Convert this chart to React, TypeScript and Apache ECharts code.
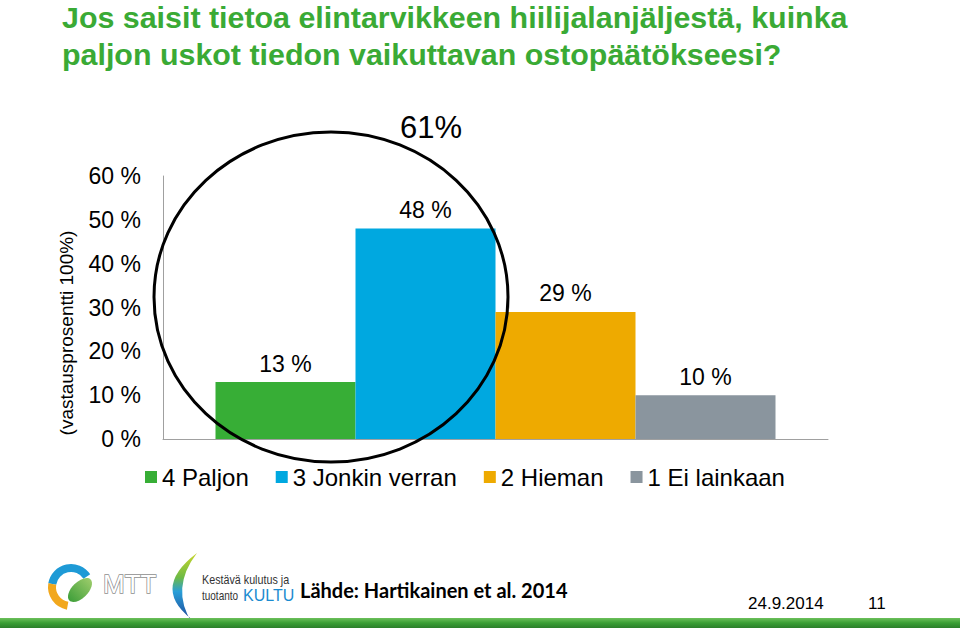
import React, { useEffect, useRef } from "react";
import * as echarts from "echarts";

const categories = ["4 Paljon", "3 Jonkin verran", "2 Hieman", "1 Ei lainkaan"];
const values = [13, 48, 29, 10];
const colors = ["#37AE36", "#00A8E0", "#EEAA00", "#8A959E"];
const yMin = 0;
const yMax = 60;
const yInterval = 10;
const titleLines = [
  "Jos saisit tietoa elintarvikkeen hiilijalanjäljestä, kuinka",
  "paljon uskot tiedon vaikuttavan ostopäätökseesi?",
];
const yAxisName = "(vastausprosentti 100%)";
const combinedLabel = "61%";
const sourceText = "Lähde: Hartikainen et al. 2014";
const dateText = "24.9.2014";
const pageText = "11";

const FONT = "'Liberation Sans', Arial, sans-serif";

export default function App() {
  const ref = useRef<HTMLDivElement>(null);
  useEffect(() => {
    if (!ref.current) return;
    echarts.graphic.registerShape(
      "crescent",
      echarts.graphic.extendPath(
        "M 197 553 Q 148 590 197 623 L 192 623 Q 170 588 197 553 Z",
        {}
      )
    );
    const chart = echarts.init(ref.current, null, { renderer: "svg" });
    const series = categories.map((name, i) => ({
      name,
      type: "bar",
      data: [values[i]],
      barWidth: 140,
      barGap: "0%",
      itemStyle: { color: colors[i] },
      label: {
        show: true,
        position: "top",
        distance: 7,
        formatter: "{c} %",
        fontSize: 23,
        color: "#000",
        fontFamily: FONT,
      },
      z: 2,
    }));
    chart.setOption({
      animation: false,
      backgroundColor: "#fff",
      textStyle: { fontFamily: FONT },
      grid: { left: 163, top: 176, width: 665, height: 263, containLabel: false },
      xAxis: {
        type: "category",
        data: [""],
        axisLine: { show: true, lineStyle: { color: "#A0A0A0", width: 1 } },
        axisTick: { show: false },
        axisLabel: { show: false },
      },
      yAxis: {
        type: "value",
        min: yMin,
        max: yMax,
        interval: yInterval,
        axisLine: { show: true, lineStyle: { color: "#A0A0A0", width: 1 } },
        axisTick: { show: false },
        splitLine: { show: false },
        axisLabel: {
          formatter: "{value} %",
          fontSize: 23,
          color: "#000",
          margin: 22,
          fontFamily: FONT,
        },
      },
      legend: {
        data: categories,
        left: 145,
        top: 465,
        padding: 0,
        icon: "rect",
        itemWidth: 12,
        itemHeight: 12,
        itemGap: 27,
        textStyle: { fontSize: 24, color: "#000", fontFamily: FONT },
      },
      series,
      graphic: [
        {
          type: "text",
          x: 62,
          y: 16.5,
          style: {
            text: titleLines[0],
            fill: "#3AAA35",
            font: `bold 30.4px ${FONT}`,
            verticalAlign: "middle",
          },
        },
        {
          type: "text",
          x: 62,
          y: 53.5,
          style: {
            text: titleLines[1],
            fill: "#3AAA35",
            font: `bold 30.4px ${FONT}`,
            verticalAlign: "middle",
          },
        },
        {
          type: "text",
          x: 66,
          y: 333,
          rotation: Math.PI / 2,
          style: {
            text: yAxisName,
            fill: "#000",
            font: `19px ${FONT}`,
            align: "center",
            verticalAlign: "middle",
          },
        },
        {
          type: "ellipse",
          z: 10,
          shape: { cx: 331, cy: 297, rx: 177, ry: 165 },
          style: { fill: "none", stroke: "#000", lineWidth: 3 },
        },
        {
          type: "text",
          z: 10,
          x: 431,
          y: 127,
          style: {
            text: combinedLabel,
            fill: "#000",
            font: `31px ${FONT}`,
            align: "center",
            verticalAlign: "middle",
          },
        },
        // MTT logo
        {
          type: "arc",
          shape: { cx: 71, cy: 587, r: 19, startAngle: 3.3, endAngle: 5.7, clockwise: true },
          style: { fill: "none", stroke: "#1E9AD6", lineWidth: 8 },
        },
        {
          type: "arc",
          shape: { cx: 71, cy: 587, r: 19, startAngle: 1.75, endAngle: 3.3, clockwise: true },
          style: { fill: "none", stroke: "#F2A81D", lineWidth: 8 },
        },
        {
          type: "ellipse",
          x: 80,
          y: 590,
          rotation: Math.PI / 4,
          shape: { cx: 0, cy: 0, rx: 15, ry: 8 },
          style: {
            fill: new echarts.graphic.LinearGradient(0, 0, 1, 0, [
              { offset: 0, color: "#3F9F3A" },
              { offset: 1, color: "#9BCB6A" },
            ]),
          },
        },
        {
          type: "text",
          x: 103,
          y: 584,
          style: {
            text: "MTT",
            fill: "#fff",
            stroke: "#8E8E8E",
            lineWidth: 1.5,
            font: `26px ${FONT}`,
            verticalAlign: "middle",
          },
        },
        // KULTU logo
        {
          type: "crescent",
          x: 0,
          y: 0,
          style: {
            fill: new echarts.graphic.LinearGradient(0, 0, 0, 1, [
              { offset: 0, color: "#C9D62B" },
              { offset: 0.35, color: "#6DBA45" },
              { offset: 0.55, color: "#2A9FD8" },
              { offset: 1, color: "#1B3E92" },
            ]),
          },
        },
        {
          type: "text",
          x: 202,
          y: 579,
          scaleX: 0.86,
          style: {
            text: "Kestävä kulutus ja",
            fill: "#333",
            font: `12.5px ${FONT}`,
            verticalAlign: "middle",
          },
        },
        {
          type: "text",
          x: 202,
          y: 596,
          scaleX: 0.8,
          style: {
            text: "tuotanto",
            fill: "#333",
            font: `12.5px ${FONT}`,
            verticalAlign: "middle",
          },
        },
        {
          type: "text",
          x: 243,
          y: 595,
          style: {
            text: "KULTU",
            fill: "#1B8BD0",
            font: `16px ${FONT}`,
            verticalAlign: "middle",
          },
        },
        {
          type: "text",
          x: 300,
          y: 590,
          style: {
            text: sourceText,
            fill: "#000",
            font: `bold 20px Lato, 'Open Sans', sans-serif`,
            verticalAlign: "middle",
          },
        },
        {
          type: "text",
          x: 748,
          y: 603,
          style: {
            text: dateText,
            fill: "#000",
            font: `17px ${FONT}`,
            verticalAlign: "middle",
          },
        },
        {
          type: "text",
          x: 868,
          y: 603,
          style: {
            text: pageText,
            fill: "#000",
            font: `17px ${FONT}`,
            verticalAlign: "middle",
          },
        },
        {
          type: "rect",
          shape: { x: 0, y: 618, width: 960, height: 10 },
          style: {
            fill: new echarts.graphic.LinearGradient(0, 0, 0, 1, [
              { offset: 0, color: "#6CC05A" },
              { offset: 0.5, color: "#3A9E35" },
              { offset: 1, color: "#2B7F2A" },
            ]),
          },
        },
      ],
    });
    return () => chart.dispose();
  }, []);
  return (
    <div
      ref={ref}
      style={{ position: "fixed", left: 0, top: 0, width: 960, height: 628, background: "#fff" }}
    />
  );
}
